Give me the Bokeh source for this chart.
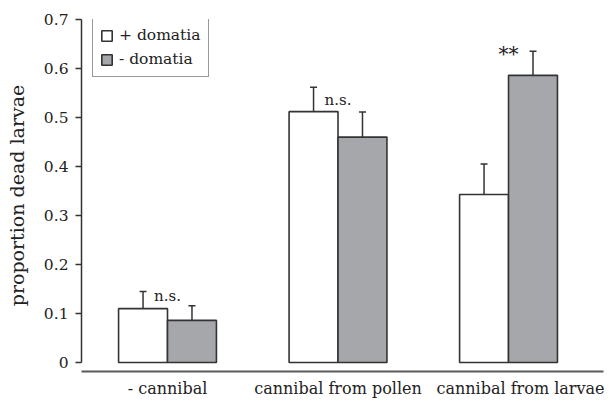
from bokeh.plotting import figure
from bokeh.models import ColumnDataSource, FixedTicker, Whisker, TeeHead, Legend, LegendItem, Range1d
from bokeh.core.properties import value
from bokeh.embed import file_html
from bokeh.resources import INLINE

# ---- data ----
categories = ["- cannibal", "cannibal from pollen", "cannibal from larvae"]
plus_domatia = [0.110, 0.512, 0.343]
plus_domatia_se = [0.035, 0.050, 0.062]
minus_domatia = [0.086, 0.460, 0.586]
minus_domatia_se = [0.030, 0.051, 0.049]
significance = ["n.s.", "n.s.", "**"]
sig_height = [0.136, 0.535, 0.629]
y_ticks = [0.0, 0.1, 0.2, 0.3, 0.4, 0.5, 0.6, 0.7]
y_tick_labels = ["0", "0.1", "0.2", "0.3", "0.4", "0.5", "0.6", "0.7"]

FONT = "DejaVu Serif"
GRAY = "#a6a7aa"
EDGE = "#333333"
TXT = "#222222"
BW = 0.287
OFF = BW / 2

pos = [i + 1 for i in range(len(categories))]
label_pos = [pos[0], pos[1], pos[2] + 0.09]

src_plus = ColumnDataSource(dict(
    x=[p - OFF for p in pos], top=plus_domatia,
    upper=[v + e for v, e in zip(plus_domatia, plus_domatia_se)]))
src_minus = ColumnDataSource(dict(
    x=[p + OFF for p in pos], top=minus_domatia,
    upper=[v + e for v, e in zip(minus_domatia, minus_domatia_se)]))

p = figure(width=604, height=400, output_backend="svg", toolbar_location=None,
           x_range=Range1d(0.4956, 3.557), y_range=Range1d(-0.0183, 0.7),
           min_border_left=81, min_border_right=1, min_border_top=19, min_border_bottom=26)
p.outline_line_color = None
p.grid.visible = False
p.background_fill_color = "white"

r_plus = p.vbar(x="x", top="top", bottom=0, width=BW, source=src_plus,
                fill_color="white", line_color=EDGE, line_width=1.6)
r_minus = p.vbar(x="x", top="top", bottom=0, width=BW, source=src_minus,
                 fill_color=GRAY, line_color=EDGE, line_width=1.6)

for src in (src_plus, src_minus):
    w = Whisker(base="x", upper="upper", lower="top", source=src, dimension="height",
                line_color=EDGE, line_width=1.5,
                upper_head=TeeHead(size=7, line_color=EDGE, line_width=1.5),
                lower_head=None)
    p.add_layout(w)

p.text(x=pos[:2], y=sig_height[:2], text=significance[:2], text_align="center",
       text_baseline="alphabetic", text_font=value(FONT), text_font_size="15px",
       text_color=TXT)
p.text(x=pos[2:], y=sig_height[2:], text=significance[2:], text_align="center",
       text_baseline="alphabetic", text_font=value(FONT), text_font_size="20px",
       text_color=TXT)

# y axis
ya = p.yaxis[0]
ya.ticker = FixedTicker(ticks=y_ticks)
ya.major_label_overrides = {t: l for t, l in zip(y_ticks, y_tick_labels)}
ya.bounds = (0, 0.7)
ya.minor_tick_line_color = None
ya.major_tick_in = 0
ya.major_tick_out = 6
ya.major_label_standoff = 7
ya.axis_line_width = 1.5
ya.axis_line_color = EDGE
ya.major_tick_line_width = 1.5
ya.major_tick_line_color = EDGE
ya.major_label_text_font = FONT
ya.major_label_text_font_size = "15.5px"
ya.major_label_text_color = TXT
ya.axis_label = "proportion dead larvae"
ya.axis_label_text_font = FONT
ya.axis_label_text_font_size = "19px"
ya.axis_label_text_font_style = "normal"
ya.axis_label_text_color = TXT
ya.axis_label_standoff = 13

# x axis
xa = p.xaxis[0]
xa.ticker = FixedTicker(ticks=label_pos)
xa.major_label_overrides = {pp: c for pp, c in zip(label_pos, categories)}
xa.minor_tick_line_color = None
xa.major_tick_line_color = None
xa.major_tick_in = 0
xa.major_tick_out = 0
xa.major_label_standoff = 7
xa.axis_line_width = 2
xa.axis_line_color = "#5a5a5a"
xa.major_label_text_font = FONT
xa.major_label_text_font_size = "16px"
xa.major_label_text_color = TXT

legend = Legend(items=[LegendItem(label="+ domatia", renderers=[r_plus]),
                       LegendItem(label="- domatia", renderers=[r_minus])],
                location=(11, 294), padding=7, spacing=4, margin=0,
                glyph_width=13, glyph_height=13, label_height=20, label_standoff=6,
                label_text_font=FONT, label_text_font_size="15.5px", label_text_color=TXT,
                border_line_color=EDGE, border_line_width=1.5, background_fill_alpha=1.0)
p.add_layout(legend)

open("out.html", "w").write(file_html(p, INLINE))
